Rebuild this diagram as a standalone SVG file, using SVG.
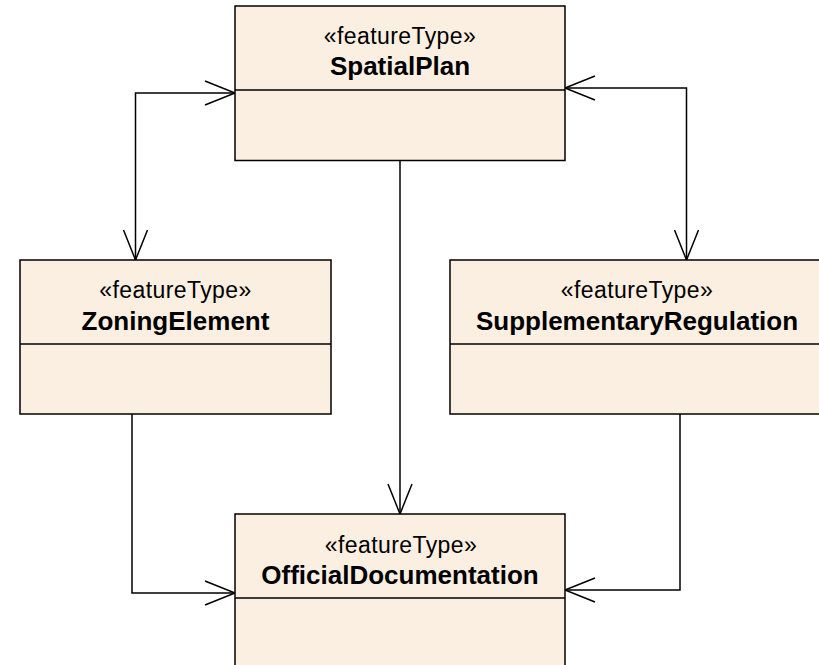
<svg xmlns="http://www.w3.org/2000/svg" width="819" height="665" viewBox="0 0 819 665">
  <style>
    .box { fill: #FAEFE0; stroke: #000; stroke-width: 1.5; }
    .sep { stroke: #000; stroke-width: 1.5; }
    .stereo { font-family: "Liberation Sans", Arial, sans-serif; font-size: 23px; letter-spacing: 0.4px; text-anchor: middle; fill: #000; }
    .name { font-family: "Liberation Sans", Arial, sans-serif; font-size: 26px; font-weight: bold; text-anchor: middle; fill: #000; }
    .conn { fill: none; stroke: #000; stroke-width: 1.5; marker-end: url(#open); }
    .both { marker-start: url(#open); }
  </style>
  <defs>
    <marker id="open" markerUnits="userSpaceOnUse" viewBox="0 0 32 26" markerWidth="32" markerHeight="26" refX="30" refY="13" orient="auto-start-reverse" overflow="visible">
      <path d="M0,1 L30,13 L0,25" fill="none" stroke="#000" stroke-width="1.5"/>
    </marker>
  </defs>

  <!-- associations -->
  <g id="connectors">
    <path class="conn both" d="M135.5,260 L135.5,93 L235,93"/>
    <path class="conn both" d="M686.5,260 L686.5,88 L565,88"/>
    <path class="conn" d="M400,161 L400,514"/>
    <path class="conn" d="M132,414 L132,593 L235,593"/>
    <path class="conn" d="M680,414 L680,590 L565,590"/>
  </g>

  <g id="SpatialPlan">
    <rect class="box" x="235" y="6" width="330" height="154.5"/>
    <line class="sep" x1="235" y1="90" x2="565" y2="90"/>
    <text class="stereo" x="400" y="44">«featureType»</text>
    <text class="name" x="400" y="75">SpatialPlan</text>
  </g>

  <g id="ZoningElement">
    <rect class="box" x="20" y="260" width="311" height="154"/>
    <line class="sep" x1="20" y1="344" x2="331" y2="344"/>
    <text class="stereo" x="175.5" y="298">«featureType»</text>
    <text class="name" x="175.5" y="330">ZoningElement</text>
  </g>

  <g id="SupplementaryRegulation">
    <rect class="box" x="450" y="260" width="375" height="154"/>
    <line class="sep" x1="450" y1="344" x2="825" y2="344"/>
    <text class="stereo" x="637" y="298">«featureType»</text>
    <text class="name" x="637" y="330">SupplementaryRegulation</text>
  </g>

  <g id="OfficialDocumentation">
    <rect class="box" x="235" y="514" width="330" height="160"/>
    <line class="sep" x1="235" y1="598" x2="565" y2="598"/>
    <text class="stereo" x="401" y="553">«featureType»</text>
    <text class="name" x="400" y="584">OfficialDocumentation</text>
  </g>
</svg>
